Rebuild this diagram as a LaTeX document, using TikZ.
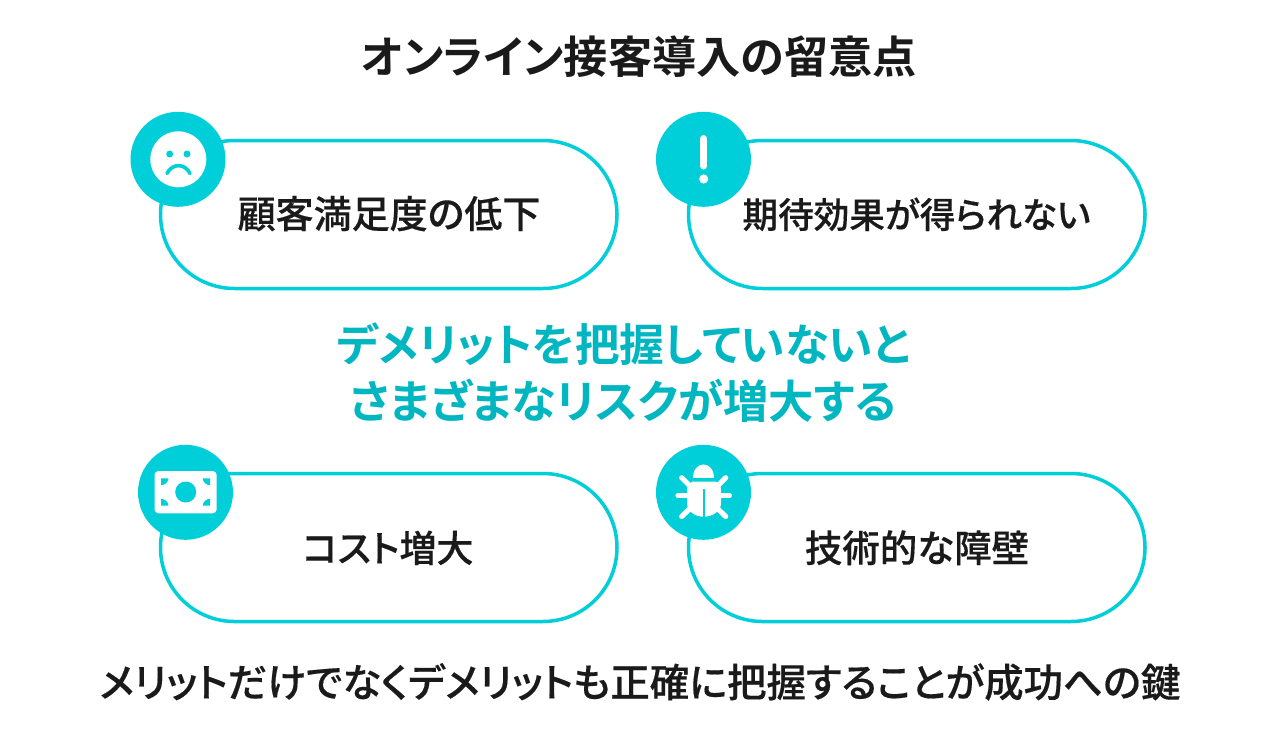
\documentclass[tikz,border=0pt]{standalone}
\usepackage{fontspec}
\newfontfamily\jpb[RawFeature={+palt}]{Noto Sans CJK JP Bold}
\newfontfamily\jp[RawFeature={+palt},FakeBold=0.35]{Noto Sans CJK JP Medium}
\definecolor{cy}{HTML}{00CED9}
\definecolor{cyt}{HTML}{00B6C0}
\definecolor{ink}{HTML}{1A1A1A}
\tikzset{
 pill/.style={draw=cy,line width=3.5pt,fill=white,rounded corners=74pt},
 badge/.style={fill=cy,draw=none},
 ico/.style={fill=white,draw=none},
 icoline/.style={draw=white,line cap=round},
 lab/.style={inner sep=0pt,anchor=base,text=ink},
}
\newcommand{\ft}[1]{\fontsize{#1pt}{#1pt}\selectfont\jp}
\newcommand{\fb}[1]{\fontsize{#1pt}{#1pt}\selectfont\jpb}
\begin{document}
\begin{tikzpicture}[x=1pt,y=-1pt]
\useasboundingbox (0,0) rectangle (1280,734);
\fill[white] (0,0) rectangle (1280,734);
% pills
\draw[pill] (160.5,140.5) rectangle (617,288.5);
\draw[pill] (688.5,140.5) rectangle (1145,288.5);
\draw[pill] (160.5,473.5) rectangle (617,621.5);
\draw[pill] (688.5,473.5) rectangle (1145,621.5);
% badges
\fill[badge] (178,159.3) circle (47.5);
\fill[badge] (703.5,159.3) circle (47.5);
\fill[badge] (185.5,492.3) circle (47.5);
\fill[badge] (703.5,492.3) circle (47.5);
% face
\fill[ico] (178.3,159.3) circle (28);
\fill[badge] (169.7,154) circle (3.5);
\fill[badge] (187,154) circle (3.5);
\draw[cy,line width=3.6pt,line cap=round] (167,173.5) .. controls (172,163) and (185,163) .. (190,173.5);
% exclamation
\draw[icoline,line width=7pt] (703.7,138.5) -- (703.7,166);
\fill[ico] (703.7,179) circle (4.6);
% money
\fill[ico,rounded corners=4pt] (154.5,471) rectangle (216.7,513.3);
\fill[badge] (185.7,492) circle (10.5);
\fill[badge] (161,478.3) -- (168.5,478.3) .. controls (168.3,482) and (165,485) .. (161,485.3) -- cycle;
\fill[badge] (210,478.3) -- (202.7,478.3) .. controls (203,482) and (206,485) .. (210,485.3) -- cycle;
\fill[badge] (161,505.7) -- (168.5,505.7) .. controls (168.3,502) and (165,499) .. (161,498.7) -- cycle;
\fill[badge] (210,505.7) -- (202.7,505.7) .. controls (203,502) and (206,499) .. (210,498.7) -- cycle;
% bug
\fill[ico] (693.3,478) .. controls (693.3,460) and (714.3,460) .. (714.3,478) -- cycle;
\fill[ico] (692,481.7) -- (716,481.7) .. controls (719,483) and (721,486) .. (721,490) -- (721,503) .. controls (721,511) and (713,516.7) .. (703.7,516.7) .. controls (694.5,516.7) and (687,511) .. (687,503) -- (687,490) .. controls (687,486) and (689,483) .. (692,481.7) -- cycle;
\draw[cy,line width=1.7pt] (703.7,489) -- (703.7,518);
\draw[icoline,line width=5.2pt] (681.7,477.7) -- (692,488);
\draw[icoline,line width=5.2pt] (725.7,477.7) -- (715.5,488);
\draw[icoline,line width=5.2pt] (678,495.7) -- (690,495.7);
\draw[icoline,line width=5.2pt] (729.4,495.7) -- (717.4,495.7);
\draw[icoline,line width=5.2pt] (681.7,516.5) -- (691,507.5);
\draw[icoline,line width=5.2pt] (725.7,516.5) -- (716.4,507.5);
% text
\node[lab] (title) at (639,73) {\fb{44.2}オンライン接客導入の留意点};
\node[lab] (t1) at (389,228) {\ft{38}顧客満足度の低下};
\node[lab] (t2) at (916.5,228) {\ft{35.6}期待効果が得られない};
\node[lab] (t3) at (388,562) {\ft{37}コスト増大};
\node[lab] (t4) at (917,562) {\ft{37.5}技術的な障壁};
\node[lab,text=cyt] (m1) at (623.5,361) {\fb{44.6}デメリットを把握していないと};
\node[lab,text=cyt] (m2) at (623.5,418) {\fb{45.3}さまざまなリスクが増大する};
\node[lab] (b) at (640,697) {\ft{39.4}メリットだけでなくデメリットも正確に把握することが成功への鍵};
\end{tikzpicture}
\end{document}
